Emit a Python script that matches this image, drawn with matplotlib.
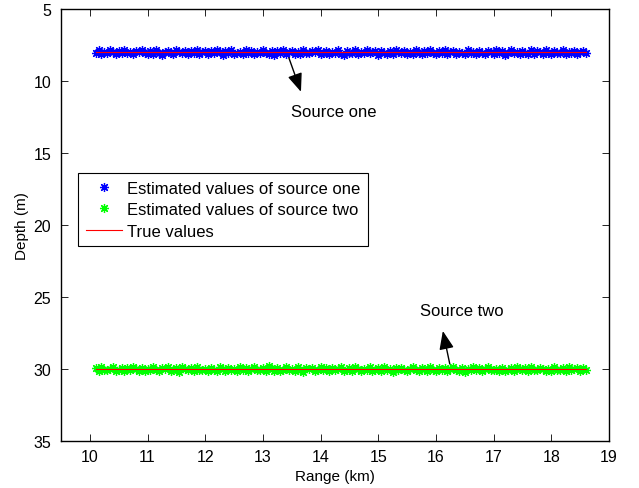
import numpy as np
import matplotlib
matplotlib.use("Agg")
import matplotlib.pyplot as plt

plt.rcParams['font.family'] = ['Liberation Sans', 'DejaVu Sans']

# true source depths (m) and range span (km)
true_one = 8.0
true_two = 30.0
range_start, range_stop = 10.1, 18.6

# estimated depth deviations from the true values (m)
dev_one = [
    0.06, -0.11, 0.14, -0.03, 0.09, -0.17, 0.02, 0.12, -0.08, 0.05, -0.14, 0.10, -0.01, 0.16, -0.09, 0.03, -0.12, 0.07, 0.11,
    -0.06, 0.13, -0.15, 0.04, 0.18, -0.02, -0.10, 0.08, 0.15, -0.13, 0.01, 0.09, -0.07, 0.17, -0.04, 0.06, -0.16, 0.12, 0.03,
    -0.09, 0.14, -0.05, 0.10, -0.12, 0.02, 0.19, -0.08, 0.07, -0.14, 0.11, 0.05, -0.03, 0.16, -0.11, 0.08, -0.06, 0.13, -0.01,
    0.09, -0.15, 0.04, 0.12, -0.10, 0.20, -0.04, 0.07, -0.13, 0.15, 0.01, -0.08, 0.11, -0.02, 0.14, -0.17, 0.06, 0.10, -0.05,
    0.03, -0.12, 0.17, 0.08, -0.07, 0.13, -0.03, 0.05, -0.16, 0.12, 0.22, -0.09, 0.04, 0.10, -0.11, 0.15, -0.01, 0.07, -0.14,
    0.09, 0.02, -0.06, 0.18, -0.10, 0.06, 0.13, -0.04, 0.11, -0.15, 0.03, 0.08, -0.08, 0.16, -0.02, 0.12, -0.12, 0.05, 0.14,
    -0.07, 0.10, -0.13, 0.04, 0.17, -0.05, 0.09, -0.11, 0.13, 0.01, -0.09, 0.15, -0.03, 0.07, 0.11, -0.16, 0.06, -0.01, 0.12,
    -0.10, 0.08, 0.14, -0.06, 0.03, 0.16, -0.12, 0.10, -0.04, 0.19, 0.05, -0.14, 0.09, -0.02, 0.13, -0.08, 0.06, 0.11, -0.11,
    0.15, -0.05, 0.02, 0.12, -0.13, 0.08, 0.17, -0.07, 0.04, 0.10, -0.15, 0.14, -0.03, 0.07, -0.10, 0.11, 0.03, -0.06, 0.09,
]
dev_two = [
    -0.08, 0.12, -0.15, 0.04, 0.10, -0.02, -0.13, 0.16, 0.06, -0.10, 0.13, -0.05, 0.08, -0.17, 0.02, 0.11, -0.07, 0.14, -0.01,
    0.09, -0.12, 0.05, 0.15, -0.09, 0.03, -0.14, 0.12, 0.07, -0.04, 0.18, -0.11, 0.01, 0.10, -0.06, 0.13, -0.16, 0.04, 0.08,
    -0.03, 0.14, -0.10, 0.06, 0.11, -0.13, 0.02, 0.17, -0.07, 0.09, -0.01, 0.12, -0.15, 0.05, -0.09, 0.16, 0.03, -0.12, 0.10,
    0.07, -0.05, 0.13, -0.18, 0.01, 0.11, -0.08, 0.15, 0.04, -0.11, 0.09, -0.02, 0.14, -0.14, 0.06, 0.20, -0.06, 0.02, -0.10,
    0.12, 0.08, -0.13, 0.05, -0.04, 0.17, -0.09, 0.10, 0.01, -0.15, 0.13, 0.06, -0.07, 0.11, -0.12, 0.03, 0.16, -0.03, 0.09,
    -0.11, 0.14, 0.04, -0.08, 0.12, -0.16, 0.07, 0.02, 0.18, -0.05, 0.10, -0.10, 0.05, 0.13, -0.02, -0.14, 0.08, 0.15, -0.07,
    0.03, 0.11, -0.12, 0.06, 0.16, -0.04, 0.09, -0.09, 0.14, 0.01, -0.13, 0.07, 0.12, -0.06, 0.21, -0.01, 0.04, -0.11, 0.10,
    -0.08, 0.15, 0.02, -0.14, 0.09, 0.06, -0.03, 0.13, -0.10, 0.17, 0.05, -0.07, 0.11, -0.15, 0.03, 0.08, -0.05, 0.14, -0.12,
    0.06, 0.10, -0.09, 0.01, 0.16, -0.02, 0.12, -0.13, 0.07, 0.04, -0.06, 0.15, -0.11, 0.09, 0.02, -0.08, 0.13, -0.04, 0.05,
]

r1 = np.linspace(range_start, range_stop, len(dev_one))
r2 = np.linspace(range_start, range_stop, len(dev_two))
est_one = true_one + np.array(dev_one)
est_two = true_two + np.array(dev_two)

fig = plt.figure(figsize=(6.39, 4.89), dpi=100)
ax = fig.add_axes([0.0955, 0.096, 0.8575, 0.884])

star = (8, 2, 0)
ax.plot(r1, est_one, linestyle='none', marker=star, color='#0000ff', ms=6.5, mew=0.9,
        label='Estimated values of source one')
ax.plot(r2, est_two, linestyle='none', marker=star, color='#00ff00', ms=6.5, mew=0.9,
        label='Estimated values of source two')
ax.plot([range_start, range_stop], [true_one, true_one], color='#ff0000', lw=0.8,
        label='True values')
ax.plot([range_start, range_stop], [true_two, true_two], color='#ff0000', lw=0.8)

ax.set_xlim(9.5, 19)
ax.set_ylim(35, 5)
ax.set_xticks(np.arange(10, 20, 1))
ax.set_yticks(np.arange(5, 40, 5))
ax.tick_params(direction='in', top=True, right=True, labelsize=11.5, length=5, width=0.6)
ax.tick_params(axis='x', pad=6)
ax.tick_params(axis='y', pad=7)
for s in ax.spines.values():
    s.set_linewidth(1.0)
ax.set_xlabel('Range (km)', fontsize=11, labelpad=3)
ax.set_ylabel('Depth (m)', fontsize=11, labelpad=3)

arrow = dict(arrowstyle='-|>,head_length=0.7,head_width=0.28', color='k', lw=1,
             mutation_scale=16, shrinkA=0, shrinkB=0)
ax.annotate('', xy=(13.66, 10.76), xytext=(13.45, 8.4), arrowprops=arrow)
ax.text(13.48, 12.15, 'Source one', fontsize=12, va='center', ha='left')
ax.annotate('', xy=(16.12, 27.36), xytext=(16.24, 29.65), arrowprops=arrow)
ax.text(15.72, 25.97, 'Source two', fontsize=12, va='center', ha='left')

leg = ax.legend(loc='upper left', bbox_to_anchor=(0.031, 0.62), borderaxespad=0,
                fontsize=12, fancybox=False, framealpha=1, edgecolor='k',
                handlelength=2.2, handletextpad=0.3, labelspacing=0.4, borderpad=0.45)
leg.get_frame().set_linewidth(0.8)
leg.get_lines()[2].set_color('#ff0000')

fig.savefig('out.png', dpi=100)
